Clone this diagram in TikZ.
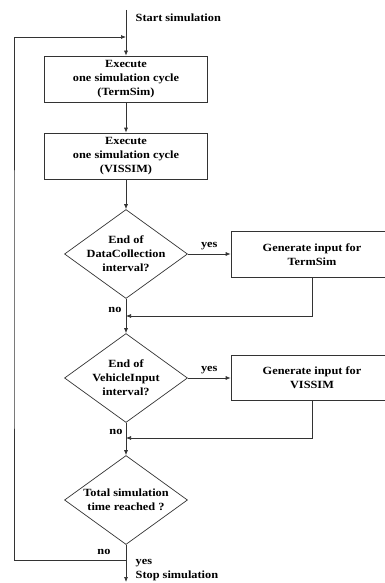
\documentclass[tikz,border=0pt]{standalone}
\usepackage{fontspec}
\setmainfont{Liberation Serif}[FakeStretch=1.12]
\usetikzlibrary{shapes.geometric,arrows.meta}

\begin{document}
\begin{tikzpicture}[x=1pt,y=-1pt,line width=0.7pt,draw=black!80,
        >={Latex[length=5pt,width=4pt]},
        every node/.style={font=\fontsize{11}{14}\selectfont\bfseries},
        proc/.style={draw,rectangle,minimum width=163pt,minimum height=46pt,inner sep=0pt,align=center},
        decision/.style={draw,diamond,aspect=1.38,minimum width=123pt,minimum height=89pt,inner sep=-3pt,align=center}]
        \useasboundingbox (0,0) rectangle (385,583);

        % main column
        \coordinate (top) at (126,10);
        \coordinate (merge) at (126,37);
        \node[proc] (simterm) at (126,79) {Execute\\one simulation cycle\\(TermSim)};
        \node[proc] (simvis) at (126,156) {Execute\\one simulation cycle\\(VISSIM)};
        \node[decision] (dcol) at (126,254) {End of\\DataCollection\\interval?};
        \coordinate (jcol) at (126,316);
        \node[decision] (dveh) at (126,378) {End of\\VehicleInput\\interval?};
        \coordinate (jveh) at (126,438);
        \node[decision] (dtot) at (126,500) {Total simulation\\time reached ?};
        \coordinate (back) at (126,560);
        \coordinate (stop) at (126,582);
        \coordinate (left) at (14,300);

        % input boxes
        \node[proc,minimum width=162pt] (genterm) at (312,254.5) {Generate input for\\TermSim};
        \node[proc,minimum width=162pt,minimum height=45pt] (genvis) at (312,377.5) {Generate input for\\VISSIM};

        \node[anchor=west] (starttxt) at (132,18) {Start simulation};
        \draw[->] (top) -- (simterm);
        \draw[->] (simterm) -- (simvis);
        \draw[->] (simvis) -- (dcol);

        \draw[->] (dcol.east) -- node[above] (yescol) {yes} (genterm.west |- dcol.east);
        \draw[->] (genterm.south) |- (jcol);
        \draw[->] (dcol) -- (dveh);
        \node (nocol) at (115,310) {no};

        \draw[->] (dveh.east) -- node[above] (yesveh) {yes} (genvis.west |- dveh.east);
        \draw[->] (genvis.south) |- (jveh);
        \draw[->] (dveh) -- (dtot);
        \node (noveh) at (116,432) {no};

        \draw[->] (dtot) -- (stop);
        \draw[->] (back) -| (left) |- (merge);
        \node (notot) at (104,552) {no};
        \node[anchor=west] (yestot) at (132,563) {yes};
        \node[anchor=west] (stoptxt) at (132,576) {Stop simulation};
    \end{tikzpicture}
\end{document}
